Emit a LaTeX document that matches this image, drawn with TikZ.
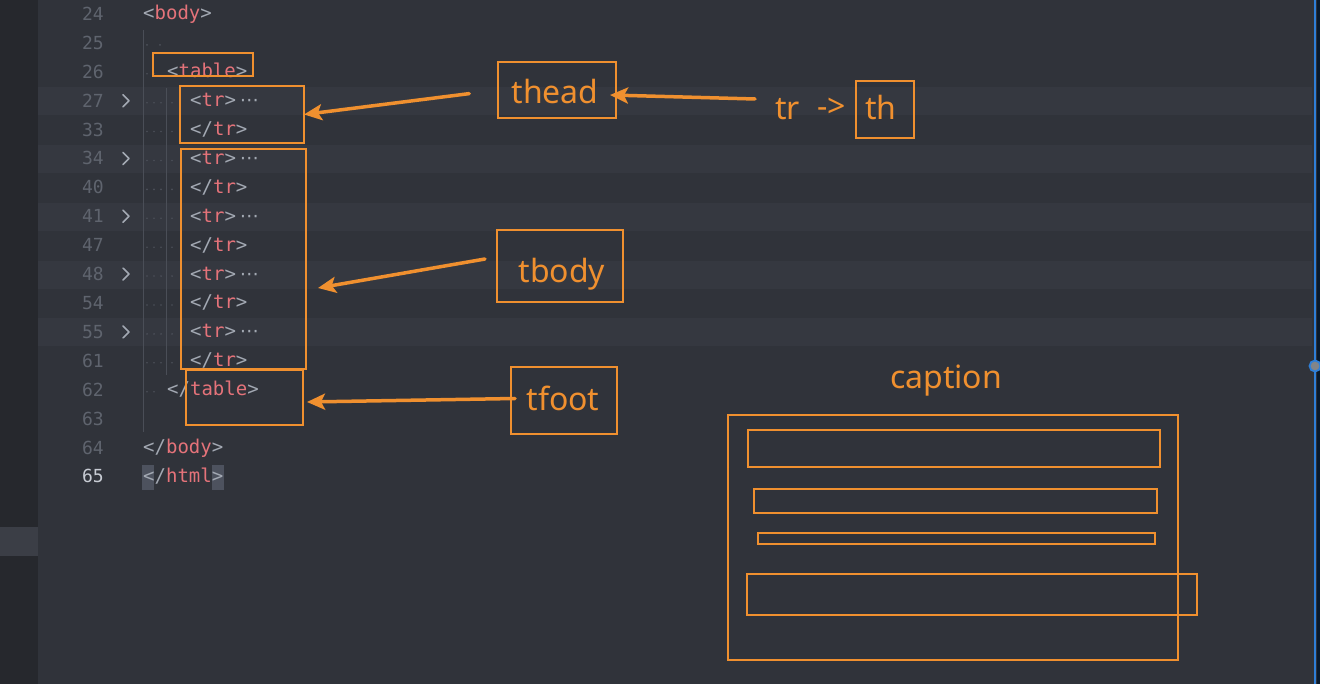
\documentclass[tikz,border=0pt]{standalone}
\usepackage{fontspec}
\setmainfont{Noto Sans}
\newfontfamily\codefont{DejaVu Sans Mono}
\newfontfamily\symfont{DejaVu Sans}
\usetikzlibrary{arrows.meta}
\definecolor{bgc}{HTML}{30333A}
\definecolor{bandc}{HTML}{353840}
\definecolor{sidec}{HTML}{26282D}
\definecolor{sidehl}{HTML}{3B3E46}
\definecolor{orng}{HTML}{F0902F}
\definecolor{puncc}{HTML}{A3A9B3}
\definecolor{tagc}{HTML}{E5737A}
\definecolor{lnc}{HTML}{5F646E}
\definecolor{lncur}{HTML}{C8CCD4}
\definecolor{guidec}{HTML}{4A4E57}
\definecolor{dotc}{HTML}{4C5059}
\definecolor{bracehl}{HTML}{4D525E}
\definecolor{bluec}{HTML}{2F7FD8}
\newcommand\cpunc[1]{\textcolor{puncc}{#1}}
\newcommand\ctag[1]{\textcolor{tagc}{#1}}
\newcommand\cell{{\symfont\fontsize{19}{19}\selectfont\textcolor{puncc}{⋯}}}
\tikzset{
  codetxt/.style={anchor=base west, inner sep=0pt, font=\codefont\fontsize{19}{19}\selectfont},
  lnum/.style={anchor=base east, inner sep=0pt, text=lnc, font=\codefont\fontsize{18}{18}\selectfont},
  obox/.style={draw=orng, line width=2pt, inner sep=0pt, outer sep=0pt},
  otxt/.style={inner sep=0pt, anchor=base, text=orng, font=\fontsize{32}{32}\selectfont},
  arr/.style={draw=orng, line width=3.5pt, line cap=round, -{Stealth[length=18pt,width=16pt,inset=4pt]}},
  chev/.style={draw=puncc, line width=1.6pt, line cap=round, line join=round},
  wsdot/.style={fill=dotc, draw=none},
}
\begin{document}
\begin{tikzpicture}[x=1pt,y=-1pt]
\useasboundingbox (0,0) rectangle (1320,684);
\fill[bgc] (0,0) rectangle (1320,684);
\fill[sidec] (0,0) rectangle (38,684);
\fill[sidehl] (0,527) rectangle (38,556);
% folded-row bands
\foreach \yy in {87,145,203,261,318}{
  \fill[bandc] (38,\yy) rectangle (1312,\yy+28);
}
% indent guides
\draw[guidec, line width=1pt] (143,30) -- (143,432);
\draw[guidec, line width=1pt] (166,88) -- (166,375);
% line numbers
\foreach \n [count=\i from 0] in {24,25,26,27,33,34,40,41,47,48,54,55,61,62,63,64}{
  \node[lnum] (ln\n) at (104,{20.5+28.9*\i}) {\n};
}
\node[lnum, text=lncur] (ln65) at (104,{20.5+28.9*16}) {65};
% fold chevrons
\foreach \i in {3,5,7,9,11}{
  \draw[chev] (123,{14+28.9*\i-6}) -- (129,{14+28.9*\i}) -- (123,{14+28.9*\i+6});
}
% whitespace dots
\foreach \i in {1}{ \foreach \xx in {147,160}{ \fill[wsdot] (\xx,{14+28.9*\i+2}) circle (0.9pt); } }
\foreach \i in {2,13}{ \foreach \xx in {147,154}{ \fill[wsdot] (\xx,{14+28.9*\i+2}) circle (0.9pt); } }
\foreach \i in {3,...,12}{ \foreach \xx in {147,154,161,172}{ \fill[wsdot] (\xx,{14+28.9*\i+2}) circle (0.9pt); } }
% code text
\node[codetxt] (c24) at (143,{20+28.9*0}) {\cpunc{<}\ctag{body}\cpunc{>}};
\node[codetxt] (c26) at (167,{20+28.9*2}) {\cpunc{<}\ctag{table}\cpunc{>}};
\foreach \i in {3,5,7,9,11}{
  \node[codetxt] (co\i) at (190,{20+28.9*\i}) {\cpunc{<}\ctag{tr}\cpunc{>}\kern4pt\cell};
}
\foreach \i in {4,6,8,10,12}{
  \node[codetxt] (cc\i) at (190,{20+28.9*\i}) {\cpunc{</}\ctag{tr}\cpunc{>}};
}
\node[codetxt] (c62) at (167,{20+28.9*13}) {\cpunc{</}\ctag{table}\cpunc{>}};
\node[codetxt] (c64) at (143,{20+28.9*15}) {\cpunc{</}\ctag{body}\cpunc{>}};
\fill[bracehl] (142,465) rectangle (154,490);
\fill[bracehl] (212,465) rectangle (224,490);
\node[codetxt] (c65) at (143,{20+28.9*16}) {\cpunc{</}\ctag{html}\cpunc{>}};
% boxes on the code
\node[obox, minimum width=100pt, minimum height=23pt] (tablebox) at (203,64.5) {};
\node[obox, minimum width=124pt, minimum height=57pt] (theadbox) at (242,114.5) {};
\node[obox, minimum width=125pt, minimum height=220pt] (tbodybox) at (243.5,259) {};
\node[obox, minimum width=117pt, minimum height=55pt] (tfootbox) at (244.5,397.5) {};
% label boxes
\node[obox, minimum width=118pt, minimum height=56pt] (theadlbl) at (557,90) {};
\node[obox, minimum width=126pt, minimum height=72pt] (tbodylbl) at (560,266) {};
\node[obox, minimum width=106pt, minimum height=67pt] (tfootlbl) at (564,400.5) {};
\node[obox, minimum width=58pt, minimum height=57pt] (thlbl) at (885,109.5) {};
% label texts
\node[otxt] (theadt) at (555,104) {thead};
\node[otxt] (tbodyt) at (562,283) {tbody};
\node[otxt] (tfoott) at (563,410) {tfoot};
\node[otxt] (tht) at (881,120) {th};
\node[otxt, anchor=base west] (trtxt) at (775,120) {tr};
\node[otxt, anchor=base west] (totxt) at (817,118) {->};
% arrows
\draw[arr, shorten <=29pt] (theadlbl.west) -- (theadbox.east);
\draw[arr] ([xshift=-20pt,yshift=21pt]trtxt.base west) -- ([xshift=-6pt,yshift=-5pt]theadlbl.east);
\draw[arr] ([xshift=-12pt,yshift=7pt]tbodylbl.west) -- ([xshift=12pt,yshift=-29pt]tbodybox.east);
\draw[arr] ([xshift=4pt,yshift=2pt]tfootlbl.west) -- ([xshift=4pt,yshift=-4.5pt]tfootbox.east);
% caption sketch
\node[otxt] (captxt) at (946,389) {caption};
\node[obox, minimum width=450pt, minimum height=245pt] (capouter) at (953,537.5) {};
\node[obox, minimum width=412pt, minimum height=37pt] (row1) at (954,448.5) {};
\node[obox, minimum width=403pt, minimum height=24pt] (row2) at (955.5,501) {};
\node[obox, minimum width=397pt, minimum height=11pt] (row3) at (956.5,538.5) {};
\node[obox, minimum width=450pt, minimum height=41pt] (row4) at (972,594.5) {};
% right edge
\fill[black!80!bluec] (1317,0) rectangle (1320,684);
\draw[bluec, line width=2.5pt] (1315,0) -- (1315,684);
\draw[bluec, line width=1.8pt, fill=bgc!60!white] (1315,366) circle (5.5pt);
\end{tikzpicture}
\end{document}
